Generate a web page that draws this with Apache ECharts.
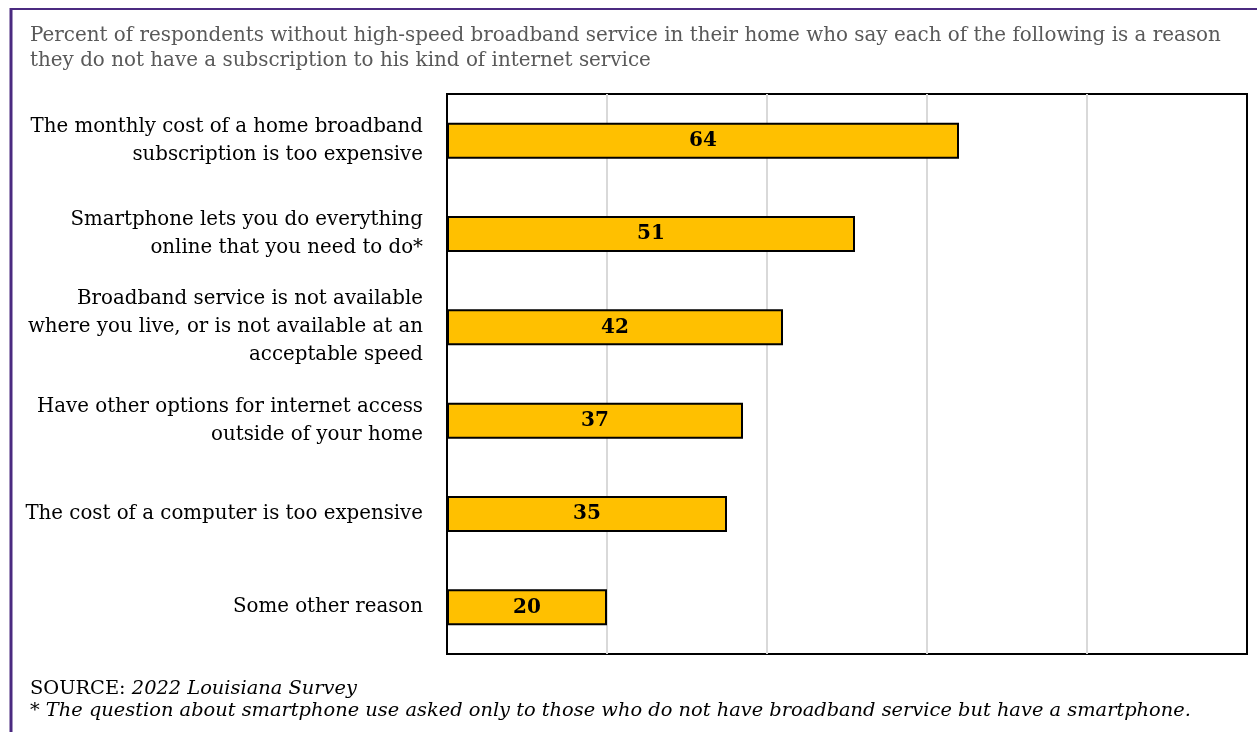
<!DOCTYPE html>
<html>
<head>
<meta charset="utf-8">
<script src="https://cdn.jsdelivr.net/npm/echarts@6/dist/echarts.min.js"></script>
<style>
  html, body { margin: 0; padding: 0; background: #fff; }
  #chart { width: 1257px; height: 732px; }
</style>
</head>
<body>
<div id="chart"></div>
<script>
// Reasons for not having a home broadband subscription (percent)
const categories = [
  'The monthly cost of a home broadband\nsubscription is too expensive',
  'Smartphone lets you do everything\nonline that you need to do*',
  'Broadband service is not available\nwhere you live, or is not available at an\nacceptable speed',
  'Have other options for internet access\noutside of your home',
  'The cost of a computer is too expensive',
  'Some other reason'
];
const values = [64, 51, 42, 37, 35, 20];

const titleLines = [
  'Percent of respondents without high-speed broadband service in their home who say each of the following is a reason',
  'they do not have a subscription to his kind of internet service'
];
const sourceLabel = 'SOURCE: ';
const sourceName = '2022 Louisiana Survey';
const footnote = '* The question about smartphone use asked only to those who do not have broadband service but have a smartphone.';

const FONT = '"DejaVu Serif", "Liberation Serif", serif';
const chart = echarts.init(document.getElementById('chart'), null, { renderer: 'canvas' });

chart.setOption({
  animation: false,
  backgroundColor: '#fff',
  grid: {
    left: 447, right: 10, top: 94, bottom: 78,
    show: true, borderColor: '#000', borderWidth: 2, backgroundColor: 'transparent'
  },
  xAxis: {
    type: 'value', min: 0, max: 100, interval: 20,
    axisLine: { show: false }, axisTick: { show: false }, axisLabel: { show: false },
    splitLine: { show: true, showMinLine: false, showMaxLine: false, lineStyle: { color: '#d9d9d9', width: 2 } }
  },
  yAxis: {
    type: 'category', data: categories, inverse: true,
    axisLine: { show: false }, axisTick: { show: false },
    axisLabel: {
      margin: 24, align: 'right', color: '#000',
      fontFamily: FONT, fontSize: 19.8, lineHeight: 28,
      padding: [5, 0, 0, 0]
    }
  },
  series: [{
    type: 'bar',
    data: values,
    barWidth: 36,
    itemStyle: { color: '#FFC000', borderColor: '#000', borderWidth: 2 },
    label: {
      show: true, position: 'inside', color: '#000',
      fontFamily: FONT, fontWeight: 'bold', fontSize: 20
    }
  }],
  graphic: [
    // purple frame along the top and left edges
    { type: 'line', shape: { x1: 11, y1: 9, x2: 1257, y2: 9 }, style: { stroke: '#4b2a80', lineWidth: 2 } },
    { type: 'line', shape: { x1: 11, y1: 8, x2: 11, y2: 732 }, style: { stroke: '#4b2a80', lineWidth: 3 } },
    { type: 'text', left: 30, top: 23, style: { text: titleLines.join('\n'), fill: '#595959', font: '19.9px ' + FONT, lineHeight: 25 } },
    {
      type: 'text', left: 30, top: 678,
      style: {
        text: '{n|' + sourceLabel + '}{i|' + sourceName + '}\n{i|' + footnote + '}',
        fill: '#000', lineHeight: 22,
        rich: {
          n: { fontFamily: FONT, fontSize: 19.4, fill: '#000', lineHeight: 22 },
          i: { fontFamily: FONT, fontSize: 19.4, fontStyle: 'italic', fill: '#000', lineHeight: 22 }
        }
      }
    }
  ]
});
</script>
</body>
</html>
